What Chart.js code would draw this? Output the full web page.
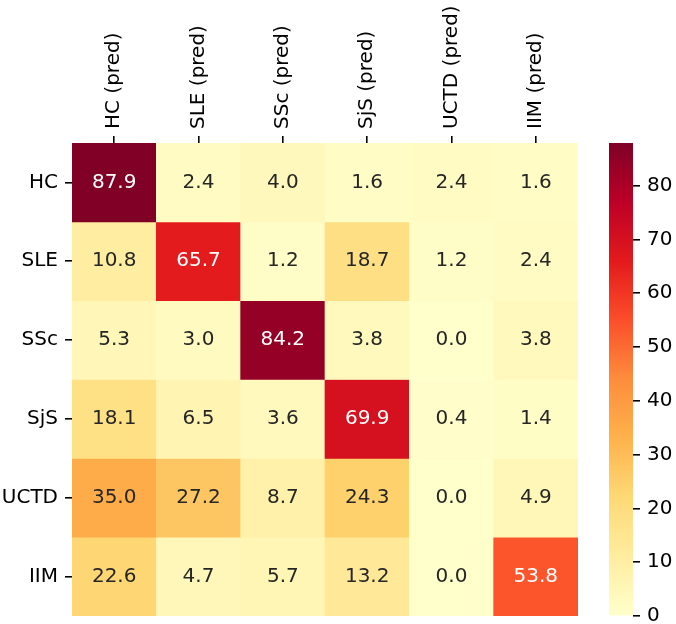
<!DOCTYPE html>
<html>
<head>
<meta charset="utf-8">
<script src="https://cdn.jsdelivr.net/npm/chart.js@4"></script>
<style>
  body { margin: 0; background: #fff; }
  #wrap { position: relative; width: 676px; height: 624px; }
  #mainBox { position: absolute; left: 0; top: 0; width: 600px; height: 624px; }
  #barBox { position: absolute; left: 600px; top: 0; width: 76px; height: 624px; }
</style>
</head>
<body>
<div id="wrap">
  <div id="mainBox"><canvas id="heatmap"></canvas></div>
  <div id="barBox"><canvas id="colorbar"></canvas></div>
</div>
<script>
// labels
const colLabels = ["HC (pred)", "SLE (pred)", "SSc (pred)", "SjS (pred)", "UCTD (pred)", "IIM (pred)"];
const rowLabels = ["HC", "SLE", "SSc", "SjS", "UCTD", "IIM"];

// one row per true class, values in %
const hcRow   = [87.9, 2.4, 4.0, 1.6, 2.4, 1.6];
const sleRow  = [10.8, 65.7, 1.2, 18.7, 1.2, 2.4];
const sscRow  = [5.3, 3.0, 84.2, 3.8, 0.0, 3.8];
const sjsRow  = [18.1, 6.5, 3.6, 69.9, 0.4, 1.4];
const uctdRow = [35.0, 27.2, 8.7, 24.3, 0.0, 4.9];
const iimRow  = [22.6, 4.7, 5.7, 13.2, 0.0, 53.8];

const colorbarTicks = [0, 10, 20, 30, 40, 50, 60, 70, 80];

const matrix = [hcRow, sleRow, sscRow, sjsRow, uctdRow, iimRow];
const vmin = 0;
const vmax = Math.max(...matrix.flat());

// matplotlib YlOrRd
const ylorrd = ["#ffffcc", "#ffeda0", "#fed976", "#feb24c", "#fd8d3c", "#fc4e2a", "#e31a1c", "#bd0026", "#800026"];

function hexRgb(h) {
  return [parseInt(h.slice(1, 3), 16), parseInt(h.slice(3, 5), 16), parseInt(h.slice(5, 7), 16)];
}

function cmapRgb(v) {
  let t = (v - vmin) / (vmax - vmin);
  t = Math.min(1, Math.max(0, t));
  const pos = t * (ylorrd.length - 1);
  const i = Math.min(ylorrd.length - 2, Math.floor(pos));
  const f = pos - i;
  const a = hexRgb(ylorrd[i]), b = hexRgb(ylorrd[i + 1]);
  return a.map((c, k) => Math.round(c + (b[k] - c) * f));
}

function cmap(v) {
  const c = cmapRgb(v);
  return "rgb(" + c[0] + "," + c[1] + "," + c[2] + ")";
}

// same rule seaborn uses for annotation colour
function textColor(v) {
  const lin = cmapRgb(v).map(c => {
    c = c / 255;
    return c <= 0.03928 ? c / 12.92 : Math.pow((c + 0.055) / 1.055, 2.4);
  });
  const lum = 0.2126 * lin[0] + 0.7152 * lin[1] + 0.0722 * lin[2];
  return lum > 0.408 ? "#262626" : "#ffffff";
}

Chart.defaults.font.family = "'DejaVu Sans', sans-serif";
Chart.defaults.font.size = 20;
Chart.defaults.color = "#000";

const heatDatasets = matrix.map((row, r) => ({
  label: rowLabels[r],
  data: row.map(() => [r - 0.5, r + 0.5]),
  values: row,
  backgroundColor: row.map(v => cmap(v)),
  borderWidth: 0,
  barPercentage: 1,
  categoryPercentage: 1,
  grouped: false,
}));

const annotate = {
  id: "annotate",
  afterDatasetsDraw(chart) {
    const ctx = chart.ctx;
    ctx.save();
    ctx.font = "20px 'DejaVu Sans'";
    ctx.textAlign = "center";
    ctx.textBaseline = "middle";
    chart.data.datasets.forEach((ds, d) => {
      chart.getDatasetMeta(d).data.forEach((bar, i) => {
        const v = ds.values[i];
        ctx.fillStyle = textColor(v);
        ctx.fillText(v.toFixed(1), bar.x, (bar.y + bar.base) / 2);
      });
    });
    ctx.restore();
  }
};

const noPad = (scale) => {
  scale.paddingTop = 0;
  scale.paddingBottom = 0;
  scale.paddingLeft = 0;
  scale.paddingRight = 0;
};

new Chart(document.getElementById("heatmap"), {
  type: "bar",
  data: { labels: colLabels, datasets: heatDatasets },
  options: {
    responsive: true,
    maintainAspectRatio: false,
    devicePixelRatio: 1,
    animation: false,
    layout: { padding: { left: 0, right: 22, top: 0, bottom: 8 } },
    plugins: { legend: { display: false }, tooltip: { enabled: false } },
    scales: {
      x: {
        position: "top",
        offset: true,
        grid: { offset: false, drawOnChartArea: false, drawTicks: true, tickLength: 7, color: "#000", lineWidth: 1.6 },
        border: { display: false },
        ticks: { minRotation: 90, maxRotation: 90, padding: 7, labelOffset: 24, autoSkip: false, color: "#000" },
        afterFit: (scale) => { scale.height = 143; noPad(scale); },
      },
      y: {
        type: "linear",
        reverse: true,
        min: -0.5,
        max: 5.5,
        grid: { drawOnChartArea: false, drawTicks: true, tickLength: 7, color: "#000", lineWidth: 1.6 },
        border: { display: false },
        ticks: { padding: 7, color: "#000", callback: (v) => rowLabels[v] },
        afterBuildTicks: (scale) => { scale.ticks = rowLabels.map((_, i) => ({ value: i })); },
        afterFit: (scale) => { scale.width = 72; noPad(scale); },
      },
    },
  },
  plugins: [annotate],
});

// colour bar
const gradientFill = (context) => {
  const chart = context.chart;
  const area = chart.chartArea;
  if (!area) return ylorrd[0];
  const yScale = chart.scales.y;
  const y0 = yScale.getPixelForValue(vmin);
  const y1 = yScale.getPixelForValue(vmax);
  const g = chart.ctx.createLinearGradient(0, y0, 0, y1);
  ylorrd.forEach((c, i) => g.addColorStop(i / (ylorrd.length - 1), c));
  return g;
};

new Chart(document.getElementById("colorbar"), {
  type: "bar",
  data: {
    labels: [""],
    datasets: [{
      data: [[vmin, vmax]],
      backgroundColor: gradientFill,
      borderWidth: 0,
      barPercentage: 1,
      categoryPercentage: 1,
    }],
  },
  options: {
    responsive: true,
    maintainAspectRatio: false,
    devicePixelRatio: 1,
    animation: false,
    layout: { padding: { left: 9, right: 0, top: 143, bottom: 8 } },
    plugins: { legend: { display: false }, tooltip: { enabled: false } },
    scales: {
      x: { display: false },
      y: {
        position: "right",
        min: vmin,
        max: vmax,
        grid: { drawOnChartArea: false, drawTicks: true, tickLength: 7, color: "#000", lineWidth: 1.6 },
        border: { display: false },
        ticks: { padding: 7, color: "#000" },
        afterBuildTicks: (scale) => { scale.ticks = colorbarTicks.map(v => ({ value: v })); },
        afterFit: (scale) => { scale.width = 43; noPad(scale); },
      },
    },
  },
});
</script>
</body>
</html>
